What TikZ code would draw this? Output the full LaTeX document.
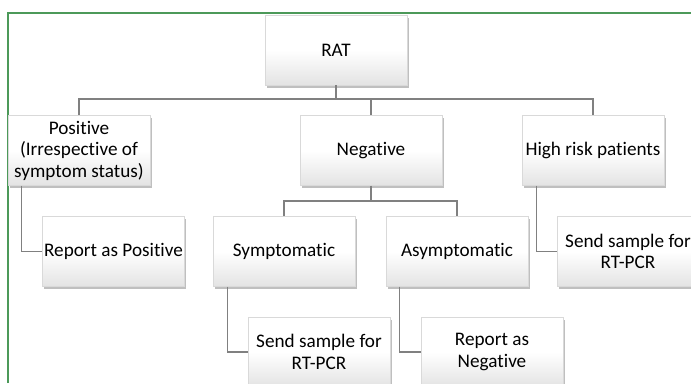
\documentclass[tikz,border=0pt]{standalone}
\usepackage{fontspec}
\setmainfont{Carlito}[Ligatures=CommonOff]
\usepackage{tikz}
\usetikzlibrary{shadows}

\definecolor{framegreen}{rgb}{0.30,0.60,0.35}
\definecolor{linkgray}{rgb}{0.50,0.50,0.50}

\begin{document}
\begin{tikzpicture}[x=1pt,y=-1pt,semithick,
                    font=\fontsize{19.2}{21.5}\selectfont]
  \tikzstyle{every node}=[align=center]
  \tikzstyle{box}=[draw=gray!30,thin,minimum width=142pt,minimum height=70pt,
                   inner sep=1pt,top color=white,bottom color=gray!22,middle color=white,
                   drop shadow={shadow xshift=1.5pt,shadow yshift=-2.5pt,opacity=0.5}]
  \tikzstyle{link}=[draw=linkgray,line width=1.1pt]

  \clip (0,0) rectangle (691,383);
  \fill[white] (0,0) rectangle (691,383);
  \draw[framegreen,line width=1.2pt] (8,383) -- (8,13) -- (700,13);

  \coordinate  (ratBus) at (336,99);
  \coordinate  (negBus) at (371,201);

  \node[box] (rat)      at (336,50)    {RAT};
  \node[box] (pos)      at (79,150.5)  {Positive\\(Irrespective of\\symptom status)};
  \node[box] (neg)      at (371,150.5) {Negative};
  \node[box] (high)     at (593,150.5) {High risk patients};
  \node[box] (repPos)   at (113.5,251.5) {Report as Positive};
  \node[box] (sym)      at (284,251.5) {Symptomatic};
  \node[box] (asym)     at (457,251.5) {Asymptomatic};
  \node[box] (sendHigh) at (628,251.5) {Send sample for\\RT-PCR};
  \node[box] (sendSym)  at (319,352)   {Send sample for\\RT-PCR};
  \node[box] (repNeg)   at (492,352)   {Report as\\Negative};

  \draw[link] (rat.south) -- (ratBus) -| (pos.north);
  \draw[link] (ratBus) -| (neg.north);
  \draw[link] (ratBus) -| (high.north);
  \draw[link] (neg.south) -- (negBus) -| (sym.north);
  \draw[link] (negBus) -| (asym.north);
  \draw[link] ([xshift=14pt]pos.south west)  |- (repPos.west);
  \draw[link] ([xshift=15pt]high.south west) |- (sendHigh.west);
  \draw[link] ([xshift=15pt]sym.south west)  |- (sendSym.west);
  \draw[link] ([xshift=14pt]asym.south west) |- (repNeg.west);

\end{tikzpicture}
\end{document}
